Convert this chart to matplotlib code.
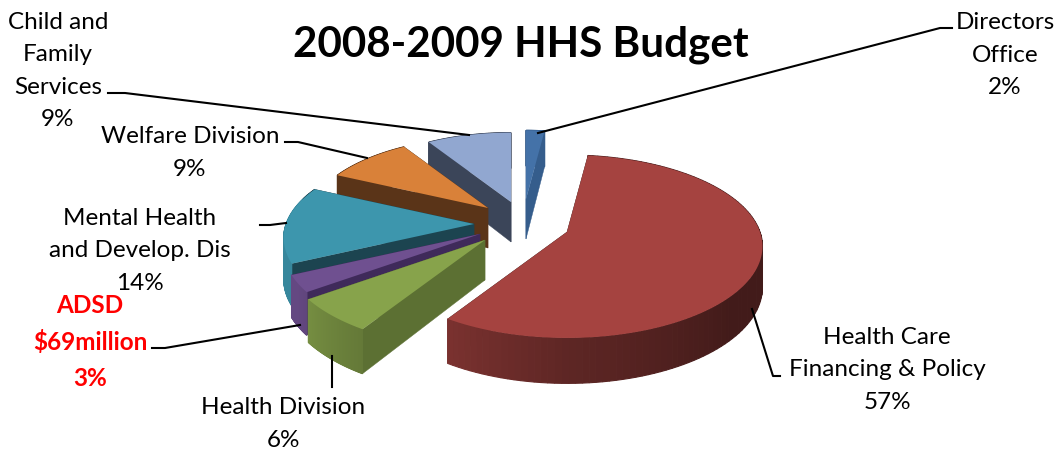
import numpy as np
import matplotlib
matplotlib.use("Agg")
import matplotlib.pyplot as plt
from matplotlib.patches import Polygon

categories = ["Directors Office", "Health Care Financing & Policy", "Health Division", "ADSD",
              "Mental Health and Develop. Dis", "Welfare Division", "Child and Family Services"]
shares = [2, 57, 6, 3, 14, 9, 9]
top_colors = ["#4472a8", "#a54340", "#87a34b", "#6f5090", "#3d96ad", "#d98139", "#91a7d0"]
radial_colors = ["#355d8c", "#4a1d1c", "#5c7033", "#3f2a5a", "#1c4450", "#5a3418", "#3b4559"]
apex_x = [526, 567, 485, 480, 474, 488, 511]
apex_y = [200, 233, 241, 235, 225, 209, 203]

RX, RY, PERSP = 193, 89.2, 0.158

plt.rcParams['font.family'] = ['Lato', 'DejaVu Sans']
fig = plt.figure(figsize=(10.6, 4.56), dpi=100)
ax = fig.add_axes([0, 0, 1, 1])
ax.set_xlim(0, 1060); ax.set_ylim(456, 0); ax.axis("off")

def pt(ox, oy, ang):
    """Project the rim point at clockwise angle ang of a slice with apex (ox, oy)."""
    far = 1 + (oy - 233) * 0.0033
    u, v = np.sin(ang), np.cos(ang)
    s = far / (1 + PERSP * v)
    return ox + RX * u * s, oy - RY * v * s

def depth(ang):
    return 40 / (1 + 0.12 * np.cos(ang))

def shade(hexcol, ang):
    deg = np.degrees(ang)
    f = np.interp(deg, [90, 130, 180, 212, 240, 300], [.40, .40, .57, .74, .90, .90])
    return tuple(c * f for c in matplotlib.colors.to_rgb(hexcol))

edges = np.radians(np.cumsum([0] + shares) * 3.6)
for i in [0, 6, 5, 4, 3, 2, 1]:
    a0, a1 = edges[i], edges[i + 1]
    ox, oy = apex_x[i], apex_y[i]
    ts = np.linspace(a0, a1, 120)
    x, y = pt(ox, oy, ts)
    d = depth(ts)
    for a in (a0, a1):
        ex, ey = pt(ox, oy, a)
        ax.add_patch(Polygon([(ox, oy), (ex, ey), (ex, ey + depth(a)), (ox, oy + 40)],
                             fc=radial_colors[i], ec=radial_colors[i], lw=0.3))
    for k in range(len(ts) - 1):
        col = shade(top_colors[i], (ts[k] + ts[k + 1]) / 2)
        if np.cos(ts[k]) > 0.3:
            col = radial_colors[i]
        ax.add_patch(Polygon([(x[k], y[k]), (x[k + 1], y[k + 1]), (x[k + 1], y[k + 1] + d[k + 1]), (x[k], y[k] + d[k])],
                             fc=col, ec=col, lw=0.8))
    ax.add_patch(Polygon(np.r_[[(ox, oy)], np.c_[x, y]], fc=top_colors[i], ec="none"))

ax.text(521, 45, "2008-2009 HHS Budget", ha="center", va="center", fontsize=30.3, fontweight="bold", color="black")
labels = [
    (1005, 55, "Directors\nOffice\n2%", "black", "normal"),
    (887, 370, "Health Care\nFinancing & Policy\n57%", "black", "normal"),
    (283, 424, "Health Division\n6%", "black", "normal"),
    (90, 342, "ADSD\n\\$69million\n3%", "red", "bold"),
    (140, 251, "Mental Health\nand Develop. Dis\n14%", "black", "normal"),
    (190, 153, "Welfare Division\n9%", "black", "normal"),
    (58, 71, "Child and\nFamily\nServices\n9%", "black", "normal"),
]
for x, y, s, c, w in labels:
    ax.text(x, y, s, ha="center", va="center", fontsize=17.5, color=c, fontweight=w, linespacing=1.66)
leaders = [
    ([952, 940, 538], [29, 29, 134]),
    ([780, 773, 752], [377, 377, 310]),
    ([332, 332], [388, 357]),
    ([152, 165, 300], [349, 349, 326]),
    ([260, 270, 286], [226, 226, 224]),
    ([285, 298, 367], [143, 143, 159]),
    ([108, 125, 469], [94, 94, 136]),
]
for lx, ly in leaders:
    ax.plot(lx, ly, color="black", lw=1.5, zorder=5)
fig.savefig("out.png", dpi=100)
